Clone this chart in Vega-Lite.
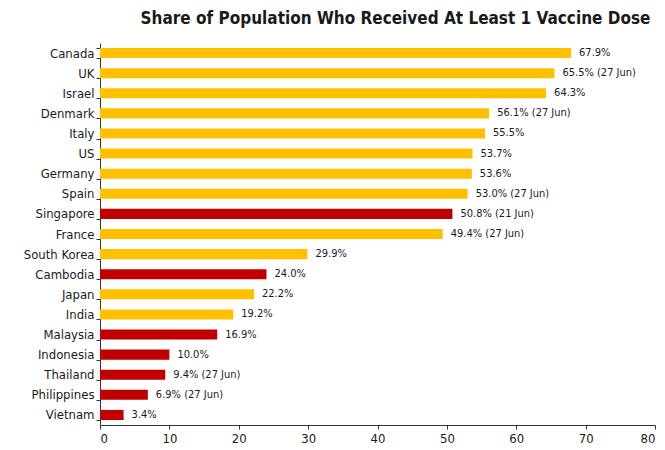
{
  "$schema": "https://vega.github.io/schema/vega-lite/v6.json",
  "width": 555,
  "height": 382,
  "autosize": "none",
  "padding": {"left": 100, "top": 43, "right": 10, "bottom": 25},
  "background": "white",
  "title": {
    "text": "Share of Population Who Received At Least 1 Vaccine Dose",
    "font": "DejaVu Sans Condensed",
    "fontSize": 17,
    "fontWeight": "bold",
    "color": "#1a1a1a",
    "anchor": "middle",
    "dx": 18,
    "offset": 9
  },
  "data": {
    "values": [
      {"country": "Canada", "share": 67.9, "label": "67.9%", "group": "Other"},
      {"country": "UK", "share": 65.5, "label": "65.5% (27 Jun)", "group": "Other"},
      {"country": "Israel", "share": 64.3, "label": "64.3%", "group": "Other"},
      {"country": "Denmark", "share": 56.1, "label": "56.1% (27 Jun)", "group": "Other"},
      {"country": "Italy", "share": 55.5, "label": "55.5%", "group": "Other"},
      {"country": "US", "share": 53.7, "label": "53.7%", "group": "Other"},
      {"country": "Germany", "share": 53.6, "label": "53.6%", "group": "Other"},
      {"country": "Spain", "share": 53.0, "label": "53.0% (27 Jun)", "group": "Other"},
      {"country": "Singapore", "share": 50.8, "label": "50.8% (21 Jun)", "group": "ASEAN"},
      {"country": "France", "share": 49.4, "label": "49.4% (27 Jun)", "group": "Other"},
      {"country": "South Korea", "share": 29.9, "label": "29.9%", "group": "Other"},
      {"country": "Cambodia", "share": 24.0, "label": "24.0%", "group": "ASEAN"},
      {"country": "Japan", "share": 22.2, "label": "22.2%", "group": "Other"},
      {"country": "India", "share": 19.2, "label": "19.2%", "group": "Other"},
      {"country": "Malaysia", "share": 16.9, "label": "16.9%", "group": "ASEAN"},
      {"country": "Indonesia", "share": 10.0, "label": "10.0%", "group": "ASEAN"},
      {"country": "Thailand", "share": 9.4, "label": "9.4% (27 Jun)", "group": "ASEAN"},
      {"country": "Philippines", "share": 6.9, "label": "6.9% (27 Jun)", "group": "ASEAN"},
      {"country": "Vietnam", "share": 3.4, "label": "3.4%", "group": "ASEAN"}
    ]
  },
  "encoding": {
    "y": {
      "field": "country",
      "type": "nominal",
      "sort": null,
      "scale": {"paddingInner": 0.5, "paddingOuter": 0.25},
      "axis": {
        "title": null,
        "domainColor": "#333",
        "tickColor": "#333",
        "tickBand": "extent",
        "tickSize": 4,
        "labelFont": "DejaVu Sans Condensed",
        "labelFontSize": 13,
        "labelColor": "#1a1a1a",
        "labelPadding": 2
      }
    },
    "x": {
      "field": "share",
      "type": "quantitative",
      "scale": {"domain": [0, 80], "nice": false},
      "axis": {
        "title": null,
        "values": [0, 10, 20, 30, 40, 50, 60, 70, 80],
        "grid": false,
        "domainColor": "#333",
        "tickColor": "#333",
        "tickSize": 4,
        "labelFont": "DejaVu Sans Condensed",
        "labelFontSize": 13,
        "labelColor": "#1a1a1a",
        "labelPadding": 3
      }
    }
  },
  "layer": [
    {
      "mark": {"type": "bar"},
      "encoding": {
        "color": {
          "field": "group",
          "type": "nominal",
          "scale": {"domain": ["Other", "ASEAN"], "range": ["#FFC000", "#C00000"]},
          "legend": null
        }
      }
    },
    {
      "mark": {"type": "text", "align": "left", "dx": 8, "font": "DejaVu Sans Condensed", "fontSize": 11, "color": "#1a1a1a"},
      "encoding": {"text": {"field": "label"}}
    }
  ],
  "config": {"view": {"stroke": null}}
}
